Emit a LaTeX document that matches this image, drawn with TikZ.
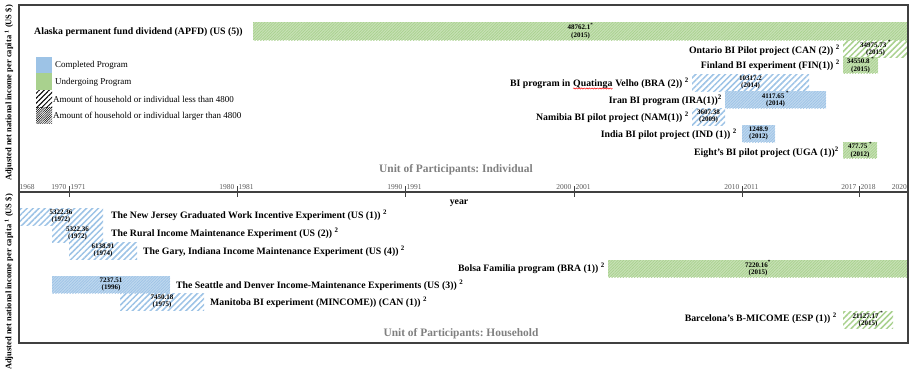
\documentclass[tikz,border=0pt]{standalone}
\usepackage{fontspec}
\setmainfont{Liberation Serif}
\usetikzlibrary{patterns.meta,decorations.pathmorphing}
\definecolor{gmain}{HTML}{A9D18E}
\definecolor{bmain}{HTML}{9DC3E6}
\definecolor{framec}{HTML}{404040}
\definecolor{yeargray}{HTML}{595959}
\definecolor{unitgray}{HTML}{808080}
\newcommand\mybarnode[7]{\node[barbox,#2,minimum width={#5-#3},minimum height={#6-#4}] (#1) at ({(#3+#5)/2},{(#4+#6)/2}) {#7};}
\tikzset{
 barbox/.style={inner sep=0pt, align=center, font=\bfseries\fontsize{7}{7.8}\selectfont, text=black},
 densegreen/.style={preaction={fill=gmain!65!white}, pattern={Lines[angle=45,distance=2pt,line width=0.7pt]}, pattern color=gmain},
 sparsegreen/.style={pattern={Lines[angle=45,distance=4.2pt,line width=1.5pt]}, pattern color=gmain},
 denseblue/.style={preaction={fill=bmain!65!white}, pattern={Lines[angle=45,distance=2pt,line width=0.7pt]}, pattern color=bmain},
 sparseblue/.style={pattern={Lines[angle=45,distance=4.2pt,line width=1.5pt]}, pattern color=bmain},
 lab/.style={font=\bfseries\fontsize{9.8}{11}\selectfont, inner sep=0pt},
 leg/.style={font=\fontsize{9}{10}\selectfont, inner sep=0pt, anchor=west},
 yr/.style={font=\fontsize{7.5}{8}\selectfont, text=yeargray, inner sep=0pt},
 unit/.style={font=\bfseries\fontsize{11.4}{12}\selectfont, text=unitgray, inner sep=0pt},
 panel/.style={draw=framec, line width=1.3pt},
 tickmark/.style={draw=framec, line width=0.8pt},
 ylab/.style={font=\bfseries\fontsize{8.5}{9}\selectfont, rotate=90, inner sep=0pt},
}
\begin{document}
\frenchspacing
\begin{tikzpicture}[x=1pt,y=-1pt]
\useasboundingbox (0,0) rectangle (910,372);
% ---- legend
\path[fill=bmain] (36,57) rectangle (52,73);
\path[fill=gmain] (36,73) rectangle (52,90);
\path[pattern={Lines[angle=45,distance=3.5pt,line width=1pt]}, pattern color=black] (36,90) rectangle (52,107);
\path[pattern={Lines[angle=45,distance=1.6pt,line width=0.5pt]}, pattern color=black] (36,107) rectangle (52,123);
\node[leg] (legC) at (55,65) {Completed Program};
\node[leg] (legU) at (55,82) {Undergoing Program};
\node[leg] (legL) at (53,99) {Amount of household or individual less than 4800};
\node[leg] (legH) at (53,116) {Amount of household or individual larger than 4800};
% ---- top panel bars
\mybarnode{alaska}{densegreen}{253}{22}{908}{40}{48762.1\textsuperscript{*}\\(2015)}
\mybarnode{ontario}{sparsegreen}{843}{40}{908}{57}{34975.73 \textsuperscript{*}\\(2015)}
\mybarnode{finland}{densegreen}{843}{57}{878}{73}{34550.8 \textsuperscript{*}\\(2015)}
\mybarnode{quatinga}{sparseblue}{692}{74}{809}{91}{10317.2\\(2014)}
\mybarnode{iran}{denseblue}{725}{91}{826}{108}{4117.65 \textsuperscript{*}\\(2014)}
\mybarnode{namibia}{sparseblue}{692}{108}{725}{125}{3607.38\\(2009)}
\mybarnode{india}{denseblue}{742}{125}{775}{142}{1248.9\\(2012)}
\mybarnode{uganda}{densegreen}{843}{142}{877}{158}{477.75 \textsuperscript{*}\\(2012)}
% ---- top panel labels
\node[lab,anchor=west] (alaskaL) at (34,32) {Alaska permanent fund dividend (APFD) (US (5))};
\node[lab,anchor=east] (ontarioL) at (840,50) {Ontario BI Pilot project (CAN (2)) \textsuperscript{2}};
\node[lab,anchor=east] (finlandL) at (840,65) {Finland BI experiment (FIN(1)) \textsuperscript{2}};
\node[lab,anchor=base east] (quatingaL3) at (689,86.3) {\null\ Velho (BRA (2)) \textsuperscript{2}};
\node[lab,anchor=base east] (quatingaL2) at (quatingaL3.base west) {Quatinga};
\node[lab,anchor=base east] (quatingaL1) at (quatingaL2.base west) {BI program in\ \null};
\draw[red, line width=0.5pt, decorate, decoration={snake, amplitude=0.6pt, segment length=2.6pt}] ([yshift=-2.2pt]quatingaL2.base west) -- ([yshift=-2.2pt]quatingaL2.base east);
\node[lab,anchor=east] (iranL) at (722,100) {Iran BI program (IRA(1))\textsuperscript{2}};
\node[lab,anchor=east] (namibiaL) at (689,117) {Namibia BI pilot project (NAM(1)) \textsuperscript{2}};
\node[lab,anchor=east] (indiaL) at (737,134) {India BI pilot project (IND (1)) \textsuperscript{2}};
\node[lab,anchor=east] (ugandaL) at (839,152) {Eight’s BI pilot project (UGA (1))\textsuperscript{2}};
\node[unit] (unitI) at (456,170) {Unit of Participants: Individual};
% ---- bottom panel bars
\mybarnode{nj}{sparseblue}{19}{208}{103}{225}{5322.36\\(1972)}
\mybarnode{rural}{sparseblue}{52}{225}{103}{242}{5322.36\\(1972)}
\mybarnode{gary}{sparseblue}{69}{242}{137}{259}{6138.91\\(1974)}
\mybarnode{seattle}{denseblue}{52}{276}{170}{293}{7237.51\\(1996)}
\mybarnode{manitoba}{sparseblue}{120}{293}{204}{310}{7450.18\\(1975)}
\mybarnode{bolsa}{densegreen}{608}{260}{908}{277}{7220.16\textsuperscript{*}\\(2015)}
\mybarnode{barcelona}{sparsegreen}{843}{311}{893}{328}{21127.17 \textsuperscript{*}\\(2015)}
% ---- bottom panel labels
\node[lab,anchor=west] (njL) at (111,215) {The New Jersey Graduated Work Incentive Experiment (US (1)) \textsuperscript{2}};
\node[lab,anchor=west] (ruralL) at (111,233) {The Rural Income Maintenance Experiment (US (2)) \textsuperscript{2}};
\node[lab,anchor=west] (garyL) at (143,251) {The Gary, Indiana Income Maintenance Experiment (US (4)) \textsuperscript{2}};
\node[lab,anchor=west] (seattleL) at (176,285) {The Seattle and Denver Income-Maintenance Experiments (US (3)) \textsuperscript{2}};
\node[lab,anchor=west] (manitobaL) at (210,302) {Manitoba BI experiment (MINCOME)) (CAN (1)) \textsuperscript{2}};
\node[lab,anchor=east] (bolsaL) at (605,268) {Bolsa Familia program (BRA (1)) \textsuperscript{2}};
\node[lab,anchor=east] (barcelonaL) at (837,318) {Barcelona’s B-MICOME (ESP (1)) \textsuperscript{2}};
\node[unit] (unitH) at (461,334) {Unit of Participants: Household};
\node[lab] (yearL) at (459,203) {year};
% ---- frames and axis
\draw[panel] (19,5) rectangle (908,192);
\draw[panel] (19,192) rectangle (908,343);
\foreach \x in {69,237,405,574,742,859} \draw[tickmark] (\x,186) -- (\x,197);
\node[yr,anchor=west] (y1968) at (19.5,187) {1968};
\foreach \x/\a/\b in {69/1970/1971,237/1980/1981,405/1990/1991,574/2000/2001,742/2010/2011,859/2017/2018}{
 \node[yr,anchor=east] (y\a) at (\x-2.5,187) {\a};
 \node[yr,anchor=west] (y\b) at (\x+1.5,187) {\b};
}
\node[yr,anchor=east] (y2020) at (907,187) {2020};
% ---- rotated axis titles
\node[ylab] (ytop) at (9,93) {Adjusted net national income per capita \textsuperscript{1} (US \$)};
\node[ylab] (ybot) at (9,282) {Adjusted net national income per capita \textsuperscript{1} (US \$)};
\end{tikzpicture}
\end{document}
